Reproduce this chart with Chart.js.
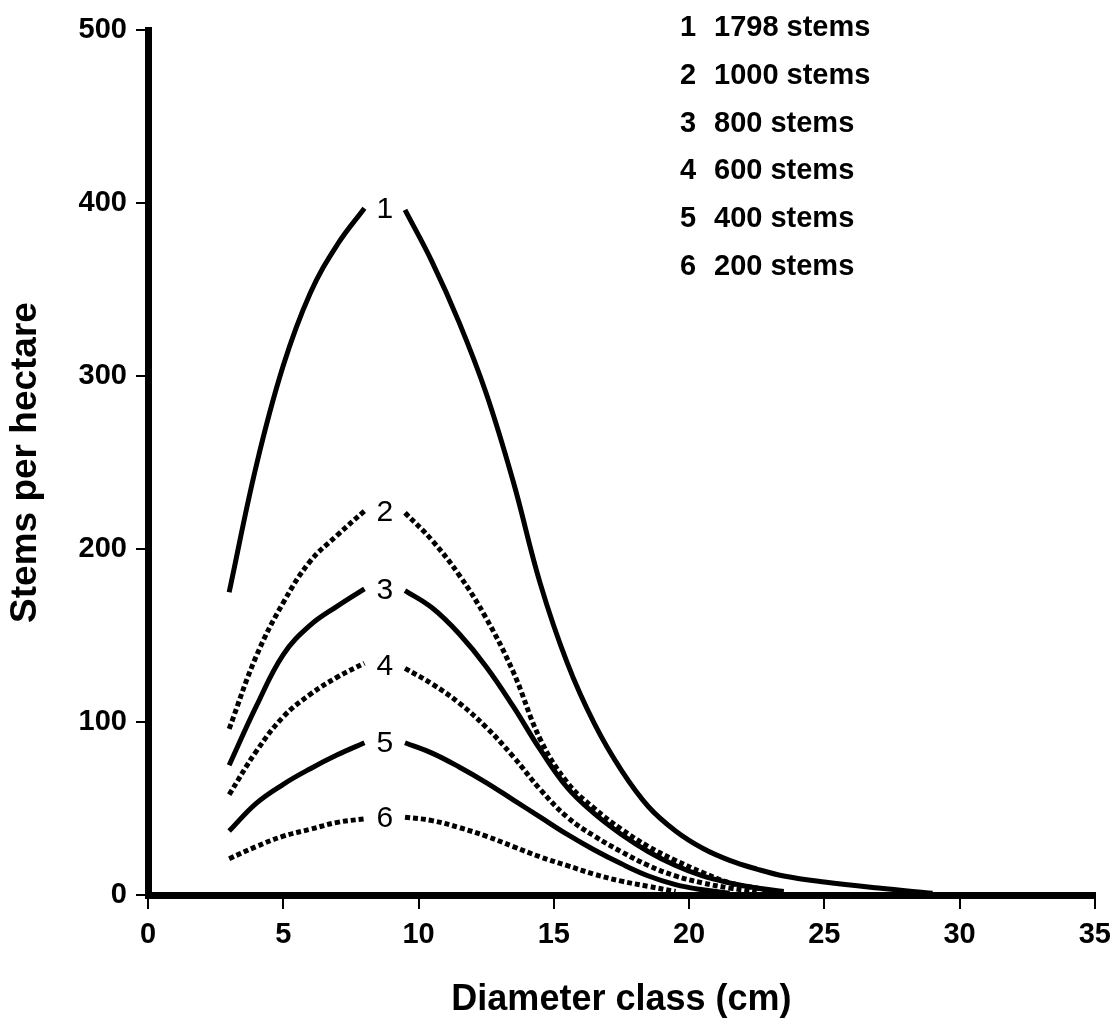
<!DOCTYPE html>
<html>
<head>
<meta charset="utf-8">
<script src="https://cdn.jsdelivr.net/npm/chart.js@4.4.1/dist/chart.umd.min.js"></script>
<style>
  html, body { margin: 0; padding: 0; background: #fff; }
  #wrap { width: 1120px; height: 1022px; }
</style>
</head>
<body>
<div id="wrap"><canvas id="stemsChart"></canvas></div>
<script>
// diameter classes (cm); 8.75 is the break where the curve number sits
const diameters = [3, 4, 5, 6, 7, 8, 8.75, 9.5, 10.5, 11.5, 12.5, 13.5, 14.5, 15.5, 16.5, 17.5, 18.5, 19.5, 20.5, 21.5, 22.5, 23.5, 25, 27, 29];

// stems per hectare
const curve1 = [175, 248, 306, 348, 376, 397, null, 396, 366, 331, 290, 239, 180, 134, 99, 72, 51, 37, 27, 20, 15, 11, 7.5, 4, 1];
const curve2 = [96, 138, 169, 193, 208, 222, null, 221, 205, 185, 160, 129, 90, 65, 50, 38, 28, 20, 13, 7, 4, 1, null, null, null];
const curve3 = [75, 109, 139, 156, 167, 177, null, 176, 166, 151, 132, 109, 84, 62, 47, 35, 25, 17, 11, 7, 4, 2, null, null, null];
const curve4 = [58, 83, 103, 116, 126, 134, null, 131, 122, 111, 97, 80, 61, 45, 34, 25, 17, 11, 7, 4, 2, null, null, null, null];
const curve5 = [37, 53, 64, 73, 81, 88, null, 88, 82, 74, 65, 55, 45, 35, 26, 18, 11, 6, 3, 1, null, null, null, null, null];
const curve6 = [21, 28, 34, 38, 42, 44, null, 45, 43, 39, 34, 28, 22, 17, 12, 8, 5, 2, null, null, null, null, null, null, null];

const curveIds = ['1', '2', '3', '4', '5', '6'];
const stemTotals = ['1798', '1000', '800', '600', '400', '200'];
const dotted = [false, true, false, true, false, true];

const xTicks = [0, 5, 10, 15, 20, 25, 30, 35];
const yTicks = [0, 100, 200, 300, 400, 500];

const allCurves = [curve1, curve2, curve3, curve4, curve5, curve6];
const FONT = '"Liberation Sans", Arial, sans-serif';

const datasets = allCurves.map((vals, i) => ({
  label: curveIds[i],
  data: diameters.map((d, k) => ({ x: d, y: vals[k] })),
  borderColor: '#000',
  borderWidth: 5,
  borderDash: dotted[i] ? [5, 3] : [],
  borderCapStyle: 'butt',
  pointRadius: 0,
  fill: false,
  spanGaps: false,
  tension: 0.4,
}));

// numbers written in the break of each curve + the key at top right
const labelsPlugin = {
  id: 'curveLabels',
  afterDatasetsDraw(chart) {
    const ctx = chart.ctx;
    const xs = chart.scales.x, ys = chart.scales.y;
    const gap = diameters.indexOf(8.75);
    ctx.save();
    ctx.fillStyle = '#000';
    ctx.font = '30px ' + FONT;
    ctx.textAlign = 'center';
    ctx.textBaseline = 'middle';
    allCurves.forEach((vals, i) => {
      const mid = (vals[gap - 1] + vals[gap + 1]) / 2;
      ctx.fillText(curveIds[i], xs.getPixelForValue(diameters[gap]), ys.getPixelForValue(mid) + 1);
    });
    // key
    ctx.font = 'bold 29px ' + FONT;
    ctx.textAlign = 'left';
    curveIds.forEach((id, i) => {
      const y = 28 + i * 47.8;
      ctx.fillText(id, 680, y);
      ctx.fillText(stemTotals[i] + ' stems', 714, y);
    });
    ctx.restore();
  }
};

new Chart(document.getElementById('stemsChart'), {
  type: 'line',
  data: { datasets },
  plugins: [labelsPlugin],
  options: {
    responsive: true,
    maintainAspectRatio: false,
    animation: false,
    devicePixelRatio: 1,
    layout: { padding: { top: 30, right: 20, left: 0, bottom: 0 } },
    plugins: { legend: { display: false }, tooltip: { enabled: false } },
    scales: {
      x: {
        type: 'linear',
        min: 0,
        max: 35,
        afterBuildTicks: (s) => { s.ticks = xTicks.map(v => ({ value: v })); },
        afterFit: (s) => { s.height = 127; },
        ticks: { color: '#000', font: { family: FONT, size: 29, weight: 'bold' }, padding: 9, maxRotation: 0 },
        grid: { drawOnChartArea: false, drawTicks: true, tickLength: 14, lineWidth: 2, color: '#000' },
        border: { display: true, width: 7, color: '#000' },
        title: { display: true, text: 'Diameter class (cm)', color: '#000', font: { family: FONT, size: 36, weight: 'bold' }, padding: { top: 4, bottom: 0 } },
      },
      y: {
        min: 0,
        max: 500,
        afterBuildTicks: (s) => { s.ticks = yTicks.map(v => ({ value: v })); },
        afterFit: (s) => { s.width = 148; },
        ticks: { color: '#000', font: { family: FONT, size: 29, weight: 'bold' }, padding: 9 },
        grid: { drawOnChartArea: false, drawTicks: true, tickLength: 12, lineWidth: 2, color: '#000' },
        border: { display: true, width: 7, color: '#000' },
        title: { display: true, text: 'Stems per hectare', color: '#000', font: { family: FONT, size: 37, weight: 'bold' }, padding: { top: 4, bottom: 0 } },
      },
    },
  },
});
</script>
</body>
</html>
